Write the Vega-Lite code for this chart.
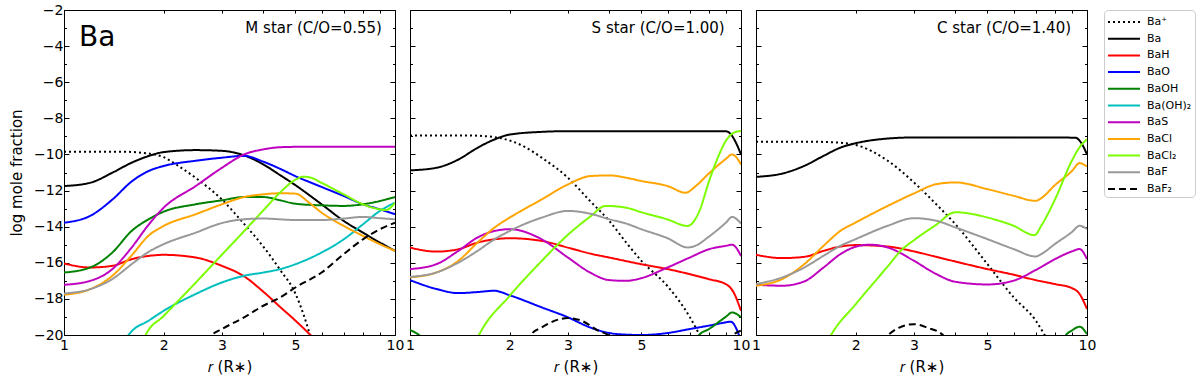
{
"$schema": "https://vega.github.io/schema/vega-lite/v6.json",
"padding": {"left": 9, "top": 3, "right": 3, "bottom": 3},
"bounds": "flush",
"config": {"font": "DejaVu Sans", "view": {"stroke": null}, "axis": {"grid": false, "minExtent": 0, "domainColor": "black", "tickColor": "black", "labelColor": "black", "titleColor": "black", "labelFontSize": 14, "titleFontSize": 15, "titleFontWeight": "normal", "labelFlush": false, "labelOverlap": false, "domainWidth": 1, "tickWidth": 1}},
"datasets": {
"curves": [
{"p":"M","s":"Ba⁺","r":1,"v":-9.85},{"p":"M","s":"Ba⁺","r":1.5,"v":-9.85},{"p":"M","s":"Ba⁺","r":1.8,"v":-9.95},{"p":"M","s":"Ba⁺","r":2,"v":-10.15},{"p":"M","s":"Ba⁺","r":2.2,"v":-10.6},{"p":"M","s":"Ba⁺","r":2.5,"v":-11.3},{"p":"M","s":"Ba⁺","r":3,"v":-12.5},{"p":"M","s":"Ba⁺","r":3.5,"v":-13.85},{"p":"M","s":"Ba⁺","r":4,"v":-15.1},{"p":"M","s":"Ba⁺","r":4.5,"v":-16.4},{"p":"M","s":"Ba⁺","r":5,"v":-17.7},{"p":"M","s":"Ba⁺","r":5.3,"v":-18.9},{"p":"M","s":"Ba⁺","r":5.6,"v":-20.3},
{"p":"M","s":"Ba","r":1,"v":-11.75},{"p":"M","s":"Ba","r":1.2,"v":-11.57},{"p":"M","s":"Ba","r":1.4,"v":-11.01},{"p":"M","s":"Ba","r":1.6,"v":-10.46},{"p":"M","s":"Ba","r":1.8,"v":-10.09},{"p":"M","s":"Ba","r":2,"v":-9.87},{"p":"M","s":"Ba","r":2.5,"v":-9.76},{"p":"M","s":"Ba","r":3,"v":-9.8},{"p":"M","s":"Ba","r":3.5,"v":-10.05},{"p":"M","s":"Ba","r":4,"v":-10.55},{"p":"M","s":"Ba","r":4.5,"v":-11.15},{"p":"M","s":"Ba","r":5,"v":-11.7},{"p":"M","s":"Ba","r":6,"v":-12.76},{"p":"M","s":"Ba","r":7,"v":-13.68},{"p":"M","s":"Ba","r":8,"v":-14.33},{"p":"M","s":"Ba","r":9,"v":-14.88},{"p":"M","s":"Ba","r":10,"v":-15.34},
{"p":"M","s":"BaH","r":1,"v":-16.04},{"p":"M","s":"BaH","r":1.2,"v":-16.26},{"p":"M","s":"BaH","r":1.4,"v":-16.17},{"p":"M","s":"BaH","r":1.6,"v":-15.8},{"p":"M","s":"BaH","r":1.8,"v":-15.62},{"p":"M","s":"BaH","r":2,"v":-15.56},{"p":"M","s":"BaH","r":2.5,"v":-15.71},{"p":"M","s":"BaH","r":3,"v":-16.17},{"p":"M","s":"BaH","r":3.5,"v":-16.75},{"p":"M","s":"BaH","r":4,"v":-17.6},{"p":"M","s":"BaH","r":4.5,"v":-18.45},{"p":"M","s":"BaH","r":5,"v":-19.2},{"p":"M","s":"BaH","r":5.7,"v":-20.2},{"p":"M","s":"BaH","r":6,"v":-20.6},
{"p":"M","s":"BaO","r":1,"v":-13.78},{"p":"M","s":"BaO","r":1.2,"v":-13.4},{"p":"M","s":"BaO","r":1.4,"v":-12.5},{"p":"M","s":"BaO","r":1.6,"v":-11.5},{"p":"M","s":"BaO","r":1.8,"v":-10.92},{"p":"M","s":"BaO","r":2,"v":-10.64},{"p":"M","s":"BaO","r":2.5,"v":-10.35},{"p":"M","s":"BaO","r":3,"v":-10.18},{"p":"M","s":"BaO","r":3.5,"v":-10.08},{"p":"M","s":"BaO","r":4,"v":-10.4},{"p":"M","s":"BaO","r":4.5,"v":-10.8},{"p":"M","s":"BaO","r":5,"v":-11.2},{"p":"M","s":"BaO","r":6,"v":-11.8},{"p":"M","s":"BaO","r":7,"v":-12.3},{"p":"M","s":"BaO","r":8,"v":-12.76},{"p":"M","s":"BaO","r":9,"v":-13.04},{"p":"M","s":"BaO","r":10,"v":-13.31},
{"p":"M","s":"BaOH","r":1,"v":-16.54},{"p":"M","s":"BaOH","r":1.2,"v":-16.26},{"p":"M","s":"BaOH","r":1.4,"v":-15.43},{"p":"M","s":"BaOH","r":1.6,"v":-14.24},{"p":"M","s":"BaOH","r":1.8,"v":-13.59},{"p":"M","s":"BaOH","r":2,"v":-13.17},{"p":"M","s":"BaOH","r":2.5,"v":-12.76},{"p":"M","s":"BaOH","r":3,"v":-12.54},{"p":"M","s":"BaOH","r":3.5,"v":-12.36},{"p":"M","s":"BaOH","r":4,"v":-12.36},{"p":"M","s":"BaOH","r":4.5,"v":-12.54},{"p":"M","s":"BaOH","r":5,"v":-12.73},{"p":"M","s":"BaOH","r":6,"v":-12.82},{"p":"M","s":"BaOH","r":7,"v":-12.85},{"p":"M","s":"BaOH","r":8,"v":-12.76},{"p":"M","s":"BaOH","r":9,"v":-12.58},{"p":"M","s":"BaOH","r":10,"v":-12.36},
{"p":"M","s":"Ba(OH)₂","r":1.5,"v":-20.35},{"p":"M","s":"Ba(OH)₂","r":1.566,"v":-20},{"p":"M","s":"Ba(OH)₂","r":1.6,"v":-19.8},{"p":"M","s":"Ba(OH)₂","r":1.8,"v":-19.21},{"p":"M","s":"Ba(OH)₂","r":2,"v":-18.66},{"p":"M","s":"Ba(OH)₂","r":2.5,"v":-17.73},{"p":"M","s":"Ba(OH)₂","r":3,"v":-17.09},{"p":"M","s":"Ba(OH)₂","r":3.5,"v":-16.72},{"p":"M","s":"Ba(OH)₂","r":4,"v":-16.54},{"p":"M","s":"Ba(OH)₂","r":4.5,"v":-16.35},{"p":"M","s":"Ba(OH)₂","r":5,"v":-16.08},{"p":"M","s":"Ba(OH)₂","r":6,"v":-15.43},{"p":"M","s":"Ba(OH)₂","r":7,"v":-14.7},{"p":"M","s":"Ba(OH)₂","r":8,"v":-13.87},{"p":"M","s":"Ba(OH)₂","r":9,"v":-13.13},{"p":"M","s":"Ba(OH)₂","r":10,"v":-12.67},
{"p":"M","s":"BaS","r":1,"v":-17.22},{"p":"M","s":"BaS","r":1.2,"v":-17.0},{"p":"M","s":"BaS","r":1.4,"v":-16.35},{"p":"M","s":"BaS","r":1.6,"v":-15.16},{"p":"M","s":"BaS","r":1.8,"v":-13.9},{"p":"M","s":"BaS","r":2,"v":-12.95},{"p":"M","s":"BaS","r":2.5,"v":-11.75},{"p":"M","s":"BaS","r":3,"v":-10.74},{"p":"M","s":"BaS","r":3.5,"v":-10.0},{"p":"M","s":"BaS","r":4,"v":-9.72},{"p":"M","s":"BaS","r":4.5,"v":-9.6},{"p":"M","s":"BaS","r":5,"v":-9.58},{"p":"M","s":"BaS","r":7,"v":-9.58},{"p":"M","s":"BaS","r":10,"v":-9.58},
{"p":"M","s":"BaCl","r":1,"v":-17.77},{"p":"M","s":"BaCl","r":1.2,"v":-17.46},{"p":"M","s":"BaCl","r":1.4,"v":-16.72},{"p":"M","s":"BaCl","r":1.6,"v":-15.6},{"p":"M","s":"BaCl","r":1.8,"v":-14.5},{"p":"M","s":"BaCl","r":2,"v":-13.96},{"p":"M","s":"BaCl","r":2.5,"v":-13.31},{"p":"M","s":"BaCl","r":3,"v":-12.76},{"p":"M","s":"BaCl","r":3.5,"v":-12.36},{"p":"M","s":"BaCl","r":4,"v":-12.21},{"p":"M","s":"BaCl","r":4.5,"v":-12.15},{"p":"M","s":"BaCl","r":5,"v":-12.17},{"p":"M","s":"BaCl","r":5.5,"v":-12.67},{"p":"M","s":"BaCl","r":6,"v":-13.22},{"p":"M","s":"BaCl","r":7,"v":-13.96},{"p":"M","s":"BaCl","r":8,"v":-14.51},{"p":"M","s":"BaCl","r":9,"v":-14.97},{"p":"M","s":"BaCl","r":10,"v":-15.34},
{"p":"M","s":"BaCl₂","r":1.7,"v":-20.8},{"p":"M","s":"BaCl₂","r":1.766,"v":-20},{"p":"M","s":"BaCl₂","r":2,"v":-18.95},{"p":"M","s":"BaCl₂","r":2.5,"v":-17.1},{"p":"M","s":"BaCl₂","r":3,"v":-15.55},{"p":"M","s":"BaCl₂","r":3.5,"v":-14.25},{"p":"M","s":"BaCl₂","r":4,"v":-13.1},{"p":"M","s":"BaCl₂","r":4.5,"v":-12.1},{"p":"M","s":"BaCl₂","r":5,"v":-11.4},{"p":"M","s":"BaCl₂","r":5.3,"v":-11.23},{"p":"M","s":"BaCl₂","r":5.6,"v":-11.3},{"p":"M","s":"BaCl₂","r":6,"v":-11.57},{"p":"M","s":"BaCl₂","r":7,"v":-12.21},{"p":"M","s":"BaCl₂","r":8,"v":-12.76},{"p":"M","s":"BaCl₂","r":9,"v":-13.04},{"p":"M","s":"BaCl₂","r":9.4,"v":-13.08},{"p":"M","s":"BaCl₂","r":10,"v":-12.67},
{"p":"M","s":"BaF","r":1,"v":-17.7},{"p":"M","s":"BaF","r":1.2,"v":-17.46},{"p":"M","s":"BaF","r":1.4,"v":-16.9},{"p":"M","s":"BaF","r":1.6,"v":-16.08},{"p":"M","s":"BaF","r":1.8,"v":-15.4},{"p":"M","s":"BaF","r":2,"v":-14.97},{"p":"M","s":"BaF","r":2.5,"v":-14.33},{"p":"M","s":"BaF","r":3,"v":-13.8},{"p":"M","s":"BaF","r":3.5,"v":-13.59},{"p":"M","s":"BaF","r":4,"v":-13.55},{"p":"M","s":"BaF","r":5,"v":-13.63},{"p":"M","s":"BaF","r":6,"v":-13.63},{"p":"M","s":"BaF","r":7,"v":-13.55},{"p":"M","s":"BaF","r":8,"v":-13.46},{"p":"M","s":"BaF","r":9,"v":-13.53},{"p":"M","s":"BaF","r":10,"v":-13.59},
{"p":"M","s":"BaF₂","r":2.7,"v":-20.4},{"p":"M","s":"BaF₂","r":2.8,"v":-20},{"p":"M","s":"BaF₂","r":3,"v":-19.67},{"p":"M","s":"BaF₂","r":3.5,"v":-19.02},{"p":"M","s":"BaF₂","r":4,"v":-18.38},{"p":"M","s":"BaF₂","r":4.5,"v":-17.92},{"p":"M","s":"BaF₂","r":5,"v":-17.37},{"p":"M","s":"BaF₂","r":6,"v":-16.54},{"p":"M","s":"BaF₂","r":7,"v":-15.52},{"p":"M","s":"BaF₂","r":8,"v":-14.7},{"p":"M","s":"BaF₂","r":9,"v":-14.14},{"p":"M","s":"BaF₂","r":10,"v":-13.78},

{"p":"S","s":"Ba⁺","r":1,"v":-8.95},{"p":"S","s":"Ba⁺","r":1.5,"v":-8.95},{"p":"S","s":"Ba⁺","r":1.8,"v":-9.04},{"p":"S","s":"Ba⁺","r":2,"v":-9.23},{"p":"S","s":"Ba⁺","r":2.2,"v":-9.54},{"p":"S","s":"Ba⁺","r":2.5,"v":-10.18},{"p":"S","s":"Ba⁺","r":3,"v":-11.29},{"p":"S","s":"Ba⁺","r":3.5,"v":-12.58},{"p":"S","s":"Ba⁺","r":4,"v":-13.68},{"p":"S","s":"Ba⁺","r":4.5,"v":-14.88},{"p":"S","s":"Ba⁺","r":5,"v":-15.89},{"p":"S","s":"Ba⁺","r":6,"v":-17.3},{"p":"S","s":"Ba⁺","r":7,"v":-19.0},{"p":"S","s":"Ba⁺","r":7.5,"v":-20.0},{"p":"S","s":"Ba⁺","r":7.8,"v":-20.6},
{"p":"S","s":"Ba","r":1,"v":-10.88},{"p":"S","s":"Ba","r":1.2,"v":-10.74},{"p":"S","s":"Ba","r":1.4,"v":-10.28},{"p":"S","s":"Ba","r":1.6,"v":-9.63},{"p":"S","s":"Ba","r":1.8,"v":-9.17},{"p":"S","s":"Ba","r":2,"v":-8.9},{"p":"S","s":"Ba","r":2.5,"v":-8.75},{"p":"S","s":"Ba","r":3,"v":-8.71},{"p":"S","s":"Ba","r":5,"v":-8.71},{"p":"S","s":"Ba","r":8,"v":-8.71},{"p":"S","s":"Ba","r":9,"v":-8.72},{"p":"S","s":"Ba","r":9.3,"v":-8.86},{"p":"S","s":"Ba","r":9.6,"v":-9.26},{"p":"S","s":"Ba","r":10,"v":-10.0},
{"p":"S","s":"BaH","r":1,"v":-15.16},{"p":"S","s":"BaH","r":1.2,"v":-15.38},{"p":"S","s":"BaH","r":1.4,"v":-15.25},{"p":"S","s":"BaH","r":1.6,"v":-14.88},{"p":"S","s":"BaH","r":1.8,"v":-14.7},{"p":"S","s":"BaH","r":2,"v":-14.64},{"p":"S","s":"BaH","r":2.5,"v":-14.79},{"p":"S","s":"BaH","r":3,"v":-15.16},{"p":"S","s":"BaH","r":3.5,"v":-15.49},{"p":"S","s":"BaH","r":4,"v":-15.71},{"p":"S","s":"BaH","r":5,"v":-16.08},{"p":"S","s":"BaH","r":6,"v":-16.35},{"p":"S","s":"BaH","r":7,"v":-16.63},{"p":"S","s":"BaH","r":8,"v":-16.91},{"p":"S","s":"BaH","r":9,"v":-17.18},{"p":"S","s":"BaH","r":9.5,"v":-17.64},{"p":"S","s":"BaH","r":10,"v":-18.66},
{"p":"S","s":"BaO","r":1,"v":-16.96},{"p":"S","s":"BaO","r":1.2,"v":-17.45},{"p":"S","s":"BaO","r":1.4,"v":-17.68},{"p":"S","s":"BaO","r":1.6,"v":-17.62},{"p":"S","s":"BaO","r":1.8,"v":-17.55},{"p":"S","s":"BaO","r":2,"v":-17.8},{"p":"S","s":"BaO","r":2.5,"v":-18.47},{"p":"S","s":"BaO","r":3,"v":-19.02},{"p":"S","s":"BaO","r":3.5,"v":-19.58},{"p":"S","s":"BaO","r":4,"v":-19.89},{"p":"S","s":"BaO","r":4.5,"v":-19.98},{"p":"S","s":"BaO","r":5,"v":-20.0},{"p":"S","s":"BaO","r":6,"v":-19.89},{"p":"S","s":"BaO","r":7,"v":-19.67},{"p":"S","s":"BaO","r":8,"v":-19.48},{"p":"S","s":"BaO","r":9,"v":-19.3},{"p":"S","s":"BaO","r":9.3,"v":-19.26},{"p":"S","s":"BaO","r":10,"v":-20.3},
{"p":"S","s":"BaOH","r":1,"v":-19.72},{"p":"S","s":"BaOH","r":1.065,"v":-20},{"p":"S","s":"BaOH","r":1.2,"v":-21},{"p":"S","s":"BaOH","r":7,"v":-21},{"p":"S","s":"BaOH","r":7.47,"v":-20},{"p":"S","s":"BaOH","r":8,"v":-19.67},{"p":"S","s":"BaOH","r":9,"v":-18.99},{"p":"S","s":"BaOH","r":9.4,"v":-18.75},{"p":"S","s":"BaOH","r":10,"v":-19.02},
{"p":"S","s":"BaS","r":1,"v":-16.35},{"p":"S","s":"BaS","r":1.2,"v":-16.08},{"p":"S","s":"BaS","r":1.4,"v":-15.34},{"p":"S","s":"BaS","r":1.6,"v":-14.6},{"p":"S","s":"BaS","r":1.8,"v":-14.24},{"p":"S","s":"BaS","r":2,"v":-14.14},{"p":"S","s":"BaS","r":2.5,"v":-14.7},{"p":"S","s":"BaS","r":3,"v":-15.71},{"p":"S","s":"BaS","r":3.5,"v":-16.54},{"p":"S","s":"BaS","r":4,"v":-16.96},{"p":"S","s":"BaS","r":4.5,"v":-17.0},{"p":"S","s":"BaS","r":5,"v":-16.85},{"p":"S","s":"BaS","r":6,"v":-16.26},{"p":"S","s":"BaS","r":7,"v":-15.71},{"p":"S","s":"BaS","r":8,"v":-15.25},{"p":"S","s":"BaS","r":9,"v":-15.06},{"p":"S","s":"BaS","r":9.4,"v":-15.0},{"p":"S","s":"BaS","r":10,"v":-15.62},
{"p":"S","s":"BaCl","r":1,"v":-16.81},{"p":"S","s":"BaCl","r":1.2,"v":-16.54},{"p":"S","s":"BaCl","r":1.4,"v":-15.89},{"p":"S","s":"BaCl","r":1.6,"v":-14.88},{"p":"S","s":"BaCl","r":1.8,"v":-14.05},{"p":"S","s":"BaCl","r":2,"v":-13.5},{"p":"S","s":"BaCl","r":2.5,"v":-12.49},{"p":"S","s":"BaCl","r":3,"v":-11.66},{"p":"S","s":"BaCl","r":3.5,"v":-11.2},{"p":"S","s":"BaCl","r":4,"v":-11.16},{"p":"S","s":"BaCl","r":4.5,"v":-11.29},{"p":"S","s":"BaCl","r":5,"v":-11.47},{"p":"S","s":"BaCl","r":6,"v":-11.75},{"p":"S","s":"BaCl","r":6.8,"v":-12.12},{"p":"S","s":"BaCl","r":7.3,"v":-11.75},{"p":"S","s":"BaCl","r":8,"v":-11.05},{"p":"S","s":"BaCl","r":9,"v":-10.25},{"p":"S","s":"BaCl","r":9.4,"v":-10.0},{"p":"S","s":"BaCl","r":10,"v":-10.55},
{"p":"S","s":"BaCl₂","r":1.55,"v":-20.7},{"p":"S","s":"BaCl₂","r":1.616,"v":-20},{"p":"S","s":"BaCl₂","r":2,"v":-17.83},{"p":"S","s":"BaCl₂","r":2.5,"v":-15.9},{"p":"S","s":"BaCl₂","r":3,"v":-14.45},{"p":"S","s":"BaCl₂","r":3.5,"v":-13.45},{"p":"S","s":"BaCl₂","r":3.9,"v":-12.85},{"p":"S","s":"BaCl₂","r":4.5,"v":-12.95},{"p":"S","s":"BaCl₂","r":5,"v":-13.2},{"p":"S","s":"BaCl₂","r":6,"v":-13.6},{"p":"S","s":"BaCl₂","r":6.9,"v":-13.96},{"p":"S","s":"BaCl₂","r":7.5,"v":-13.1},{"p":"S","s":"BaCl₂","r":8,"v":-11.5},{"p":"S","s":"BaCl₂","r":8.5,"v":-10.2},{"p":"S","s":"BaCl₂","r":9,"v":-9.25},{"p":"S","s":"BaCl₂","r":9.5,"v":-8.8},{"p":"S","s":"BaCl₂","r":10,"v":-8.7},
{"p":"S","s":"BaF","r":1,"v":-16.78},{"p":"S","s":"BaF","r":1.2,"v":-16.54},{"p":"S","s":"BaF","r":1.4,"v":-15.99},{"p":"S","s":"BaF","r":1.6,"v":-15.34},{"p":"S","s":"BaF","r":1.8,"v":-14.7},{"p":"S","s":"BaF","r":2,"v":-14.24},{"p":"S","s":"BaF","r":2.5,"v":-13.5},{"p":"S","s":"BaF","r":3,"v":-13.13},{"p":"S","s":"BaF","r":3.5,"v":-13.28},{"p":"S","s":"BaF","r":4,"v":-13.59},{"p":"S","s":"BaF","r":4.5,"v":-13.83},{"p":"S","s":"BaF","r":5,"v":-14.14},{"p":"S","s":"BaF","r":6,"v":-14.64},{"p":"S","s":"BaF","r":6.9,"v":-15.15},{"p":"S","s":"BaF","r":7.3,"v":-15.05},{"p":"S","s":"BaF","r":8,"v":-14.55},{"p":"S","s":"BaF","r":9,"v":-13.78},{"p":"S","s":"BaF","r":9.4,"v":-13.46},{"p":"S","s":"BaF","r":10,"v":-13.83},
{"p":"S","s":"BaF₂","r":2.25,"v":-20.4},{"p":"S","s":"BaF₂","r":2.315,"v":-20},{"p":"S","s":"BaF₂","r":2.5,"v":-19.58},{"p":"S","s":"BaF₂","r":2.8,"v":-19.15},{"p":"S","s":"BaF₂","r":3,"v":-19.06},{"p":"S","s":"BaF₂","r":3.3,"v":-19.21},{"p":"S","s":"BaF₂","r":3.7,"v":-19.76},{"p":"S","s":"BaF₂","r":4,"v":-20.05},{"p":"S","s":"BaF₂","r":4.2,"v":-20.5},{"p":"S","s":"BaF₂","r":9.2,"v":-20.5},{"p":"S","s":"BaF₂","r":9.5,"v":-20},{"p":"S","s":"BaF₂","r":10,"v":-19.76},

{"p":"C","s":"Ba⁺","r":1,"v":-9.3},{"p":"C","s":"Ba⁺","r":1.5,"v":-9.3},{"p":"C","s":"Ba⁺","r":1.8,"v":-9.35},{"p":"C","s":"Ba⁺","r":2,"v":-9.47},{"p":"C","s":"Ba⁺","r":2.5,"v":-10.35},{"p":"C","s":"Ba⁺","r":3,"v":-11.55},{"p":"C","s":"Ba⁺","r":3.5,"v":-12.75},{"p":"C","s":"Ba⁺","r":4,"v":-13.86},{"p":"C","s":"Ba⁺","r":5,"v":-16.07},{"p":"C","s":"Ba⁺","r":6,"v":-17.91},{"p":"C","s":"Ba⁺","r":7,"v":-19.2},{"p":"C","s":"Ba⁺","r":7.45,"v":-20},{"p":"C","s":"Ba⁺","r":7.8,"v":-20.6},
{"p":"C","s":"Ba","r":1,"v":-11.24},{"p":"C","s":"Ba","r":1.2,"v":-11.06},{"p":"C","s":"Ba","r":1.4,"v":-10.63},{"p":"C","s":"Ba","r":1.6,"v":-10.08},{"p":"C","s":"Ba","r":1.8,"v":-9.62},{"p":"C","s":"Ba","r":2,"v":-9.38},{"p":"C","s":"Ba","r":2.5,"v":-9.12},{"p":"C","s":"Ba","r":3,"v":-9.06},{"p":"C","s":"Ba","r":6,"v":-9.06},{"p":"C","s":"Ba","r":9.2,"v":-9.07},{"p":"C","s":"Ba","r":9.6,"v":-9.35},{"p":"C","s":"Ba","r":10,"v":-10.0},
{"p":"C","s":"BaH","r":1,"v":-15.56},{"p":"C","s":"BaH","r":1.2,"v":-15.74},{"p":"C","s":"BaH","r":1.4,"v":-15.67},{"p":"C","s":"BaH","r":1.6,"v":-15.34},{"p":"C","s":"BaH","r":1.8,"v":-15.1},{"p":"C","s":"BaH","r":2,"v":-15.02},{"p":"C","s":"BaH","r":2.5,"v":-15.1},{"p":"C","s":"BaH","r":3,"v":-15.37},{"p":"C","s":"BaH","r":3.5,"v":-15.67},{"p":"C","s":"BaH","r":4,"v":-15.93},{"p":"C","s":"BaH","r":5,"v":-16.35},{"p":"C","s":"BaH","r":6,"v":-16.66},{"p":"C","s":"BaH","r":7,"v":-16.96},{"p":"C","s":"BaH","r":8,"v":-17.18},{"p":"C","s":"BaH","r":9,"v":-17.4},{"p":"C","s":"BaH","r":9.5,"v":-17.73},{"p":"C","s":"BaH","r":10,"v":-18.56},
{"p":"C","s":"BaOH","r":8.4,"v":-20.4},{"p":"C","s":"BaOH","r":8.64,"v":-20},{"p":"C","s":"BaOH","r":9,"v":-19.75},{"p":"C","s":"BaOH","r":9.5,"v":-19.54},{"p":"C","s":"BaOH","r":10,"v":-19.95},
{"p":"C","s":"BaS","r":1,"v":-17.22},{"p":"C","s":"BaS","r":1.2,"v":-17.27},{"p":"C","s":"BaS","r":1.4,"v":-17.03},{"p":"C","s":"BaS","r":1.6,"v":-16.26},{"p":"C","s":"BaS","r":1.8,"v":-15.52},{"p":"C","s":"BaS","r":2,"v":-15.11},{"p":"C","s":"BaS","r":2.2,"v":-15.0},{"p":"C","s":"BaS","r":2.5,"v":-15.15},{"p":"C","s":"BaS","r":3,"v":-15.89},{"p":"C","s":"BaS","r":3.5,"v":-16.62},{"p":"C","s":"BaS","r":4,"v":-17.05},{"p":"C","s":"BaS","r":5,"v":-17.2},{"p":"C","s":"BaS","r":6,"v":-16.99},{"p":"C","s":"BaS","r":7,"v":-16.4},{"p":"C","s":"BaS","r":8,"v":-15.8},{"p":"C","s":"BaS","r":9,"v":-15.37},{"p":"C","s":"BaS","r":9.5,"v":-15.24},{"p":"C","s":"BaS","r":10,"v":-15.8},
{"p":"C","s":"BaCl","r":1,"v":-17.27},{"p":"C","s":"BaCl","r":1.2,"v":-16.9},{"p":"C","s":"BaCl","r":1.4,"v":-16.07},{"p":"C","s":"BaCl","r":1.6,"v":-15.06},{"p":"C","s":"BaCl","r":1.8,"v":-14.23},{"p":"C","s":"BaCl","r":2,"v":-13.77},{"p":"C","s":"BaCl","r":2.5,"v":-12.85},{"p":"C","s":"BaCl","r":3,"v":-12.16},{"p":"C","s":"BaCl","r":3.5,"v":-11.65},{"p":"C","s":"BaCl","r":4,"v":-11.55},{"p":"C","s":"BaCl","r":5,"v":-11.92},{"p":"C","s":"BaCl","r":6,"v":-12.29},{"p":"C","s":"BaCl","r":7,"v":-12.57},{"p":"C","s":"BaCl","r":7.3,"v":-12.4},{"p":"C","s":"BaCl","r":8,"v":-11.7},{"p":"C","s":"BaCl","r":9,"v":-10.92},{"p":"C","s":"BaCl","r":9.5,"v":-10.48},{"p":"C","s":"BaCl","r":10,"v":-10.67},
{"p":"C","s":"BaCl₂","r":1.6,"v":-20.8},{"p":"C","s":"BaCl₂","r":1.686,"v":-20},{"p":"C","s":"BaCl₂","r":2,"v":-18.3},{"p":"C","s":"BaCl₂","r":2.5,"v":-16.2},{"p":"C","s":"BaCl₂","r":2.75,"v":-15.3},{"p":"C","s":"BaCl₂","r":3,"v":-14.75},{"p":"C","s":"BaCl₂","r":3.5,"v":-13.9},{"p":"C","s":"BaCl₂","r":4,"v":-13.2},{"p":"C","s":"BaCl₂","r":4.5,"v":-13.3},{"p":"C","s":"BaCl₂","r":5,"v":-13.49},{"p":"C","s":"BaCl₂","r":6,"v":-13.95},{"p":"C","s":"BaCl₂","r":6.94,"v":-14.47},{"p":"C","s":"BaCl₂","r":7.3,"v":-13.9},{"p":"C","s":"BaCl₂","r":8,"v":-12.5},{"p":"C","s":"BaCl₂","r":9,"v":-10.35},{"p":"C","s":"BaCl₂","r":9.5,"v":-9.6},{"p":"C","s":"BaCl₂","r":10,"v":-9.16},
{"p":"C","s":"BaF","r":1,"v":-17.18},{"p":"C","s":"BaF","r":1.2,"v":-16.81},{"p":"C","s":"BaF","r":1.4,"v":-16.26},{"p":"C","s":"BaF","r":1.6,"v":-15.61},{"p":"C","s":"BaF","r":1.8,"v":-15.06},{"p":"C","s":"BaF","r":2,"v":-14.69},{"p":"C","s":"BaF","r":2.5,"v":-13.95},{"p":"C","s":"BaF","r":3,"v":-13.53},{"p":"C","s":"BaF","r":3.5,"v":-13.67},{"p":"C","s":"BaF","r":4,"v":-14.04},{"p":"C","s":"BaF","r":5,"v":-14.69},{"p":"C","s":"BaF","r":6,"v":-15.24},{"p":"C","s":"BaF","r":7,"v":-15.65},{"p":"C","s":"BaF","r":7.3,"v":-15.5},{"p":"C","s":"BaF","r":8,"v":-14.96},{"p":"C","s":"BaF","r":9,"v":-14.3},{"p":"C","s":"BaF","r":9.5,"v":-13.95},{"p":"C","s":"BaF","r":10,"v":-14.13},
{"p":"C","s":"BaF₂","r":2.4,"v":-20.4},{"p":"C","s":"BaF₂","r":2.51,"v":-20},{"p":"C","s":"BaF₂","r":2.7,"v":-19.6},{"p":"C","s":"BaF₂","r":3,"v":-19.4},{"p":"C","s":"BaF₂","r":3.3,"v":-19.6},{"p":"C","s":"BaF₂","r":3.67,"v":-20},{"p":"C","s":"BaF₂","r":3.8,"v":-20.4}
],
"titles": [
{"p":"M","label":"M star (C/O=0.55)","r":9.13,"v":-3.29},
{"p":"S","label":"S star (C/O=1.00)","r":8.93,"v":-3.29},
{"p":"C","label":"C star (C/O=1.40)","r":8.95,"v":-3.29}
],
"element": [{"label":"Ba","r":1.11,"v":-3.99}]
},
"spacing": 15,
"resolve": {"scale": {"color": "shared", "strokeDash": "shared"}, "legend": {"color": "shared", "strokeDash": "shared"}},
"hconcat": [
{"width": 331, "height": 325, "resolve": {"axis": {"x": "independent", "y": "independent"}},
 "layer": [
 {"data": {"name": "curves"}, "transform": [{"filter": "datum.p == 'M'"}],
  "mark": {"type": "line", "clip": true, "interpolate": "monotone", "strokeWidth": 2},
  "encoding": {
   "x": {"field": "r", "type": "quantitative", "scale": {"type": "log", "domain": [1, 10], "nice": false}, "axis": {"orient": "bottom", "values": [1,2,3,4,5,6,7,8,9,10], "format": "~g", "labelExpr": "indexof([1,2,3,5,10], datum.value) >= 0 ? datum.label : ''", "tickSize": -3, "labelPadding": 6, "title": "𝑟 (R∗)", "titlePadding": 7}},
   "y": {"field": "v", "type": "quantitative", "scale": {"domain": [-20, -2], "nice": false, "zero": false}, "axis": {"orient": "left", "values": [-20,-19,-18,-17,-16,-15,-14,-13,-12,-11,-10,-9,-8,-7,-6,-5,-4,-3,-2], "labelExpr": "datum.value % 2 == 0 ? replace(datum.label, '-', '−') : ''", "tickSize": {"condition": {"test": "datum.value % 2 == 0", "value": -5}, "value": -2.5}, "labelPadding": 6, "title": "log mole fraction", "titlePadding": 9}},
   "color": {"field": "s", "type": "nominal", "scale": {"domain": ["Ba⁺","Ba","BaH","BaO","BaOH","Ba(OH)₂","BaS","BaCl","BaCl₂","BaF","BaF₂"], "range": ["#000000","#000000","#ff0000","#0000ff","#008000","#00bfbf","#bf00bf","#ffa500","#7cfc00","#999999","#000000"]}, "legend": {"title": null, "orient": "right", "offset": 8, "padding": 3, "strokeColor": "#cccccc", "cornerRadius": 4, "fillColor": "white", "labelFontSize": 11, "labelColor": "black", "symbolType": "M-1,0H3", "symbolSize": 256, "symbolStrokeWidth": 2, "labelOffset": 22, "rowPadding": 2.7}},
   "strokeDash": {"field": "s", "type": "nominal", "scale": {"domain": ["Ba⁺","Ba","BaH","BaO","BaOH","Ba(OH)₂","BaS","BaCl","BaCl₂","BaF","BaF₂"], "range": [[2,3],[1,0],[1,0],[1,0],[1,0],[1,0],[1,0],[1,0],[1,0],[1,0],[7,4]]}, "legend": {"title": null, "orient": "right", "offset": 8, "padding": 3, "strokeColor": "#cccccc", "cornerRadius": 4, "fillColor": "white", "labelFontSize": 11, "labelColor": "black", "symbolType": "M-1,0H3", "symbolSize": 256, "symbolStrokeWidth": 2, "labelOffset": 22, "rowPadding": 2.7}}
  }},
 {"data": {"name": "titles"}, "transform": [{"filter": "datum.p == 'M'"}],
  "mark": {"type": "text", "align": "right", "baseline": "alphabetic", "fontSize": 15, "color": "black"},
  "encoding": {
   "x": {"field": "r", "type": "quantitative", "scale": {"type": "log", "domain": [1, 10], "nice": false}, "axis": {"orient": "top", "values": [1,2,3,4,5,6,7,8,9,10], "labels": false, "title": null, "tickSize": -3}},
   "y": {"field": "v", "type": "quantitative", "scale": {"domain": [-20, -2], "nice": false, "zero": false}, "axis": {"orient": "right", "values": [-20,-19,-18,-17,-16,-15,-14,-13,-12,-11,-10,-9,-8,-7,-6,-5,-4,-3,-2], "labels": false, "title": null, "tickSize": {"condition": {"test": "datum.value % 2 == 0", "value": -5}, "value": -2.5}}},
   "text": {"field": "label"}
  }},
 {"data": {"name": "element"},
  "mark": {"type": "text", "align": "left", "baseline": "alphabetic", "fontSize": 28, "color": "black"},
  "encoding": {
   "x": {"field": "r", "type": "quantitative", "scale": {"type": "log", "domain": [1, 10], "nice": false}, "axis": null},
   "y": {"field": "v", "type": "quantitative", "scale": {"domain": [-20, -2], "nice": false, "zero": false}, "axis": null},
   "text": {"field": "label"}
  }}
 ]},
{"width": 331, "height": 325, "resolve": {"axis": {"x": "independent", "y": "independent"}},
 "layer": [
 {"data": {"name": "curves"}, "transform": [{"filter": "datum.p == 'S'"}],
  "mark": {"type": "line", "clip": true, "interpolate": "monotone", "strokeWidth": 2},
  "encoding": {
   "x": {"field": "r", "type": "quantitative", "scale": {"type": "log", "domain": [1, 10], "nice": false}, "axis": {"orient": "bottom", "values": [1,2,3,4,5,6,7,8,9,10], "format": "~g", "labelExpr": "indexof([1,2,3,5,10], datum.value) >= 0 ? datum.label : ''", "tickSize": -3, "labelPadding": 6, "title": "𝑟 (R∗)", "titlePadding": 7}},
   "y": {"field": "v", "type": "quantitative", "scale": {"domain": [-20, -2], "nice": false, "zero": false}, "axis": {"orient": "left", "values": [-20,-19,-18,-17,-16,-15,-14,-13,-12,-11,-10,-9,-8,-7,-6,-5,-4,-3,-2], "labels": false, "title": null, "tickSize": {"condition": {"test": "datum.value % 2 == 0", "value": -5}, "value": -2.5}}},
   "color": {"field": "s", "type": "nominal"},
   "strokeDash": {"field": "s", "type": "nominal"}
  }},
 {"data": {"name": "titles"}, "transform": [{"filter": "datum.p == 'S'"}],
  "mark": {"type": "text", "align": "right", "baseline": "alphabetic", "fontSize": 15, "color": "black"},
  "encoding": {
   "x": {"field": "r", "type": "quantitative", "scale": {"type": "log", "domain": [1, 10], "nice": false}, "axis": {"orient": "top", "values": [1,2,3,4,5,6,7,8,9,10], "labels": false, "title": null, "tickSize": -3}},
   "y": {"field": "v", "type": "quantitative", "scale": {"domain": [-20, -2], "nice": false, "zero": false}, "axis": {"orient": "right", "values": [-20,-19,-18,-17,-16,-15,-14,-13,-12,-11,-10,-9,-8,-7,-6,-5,-4,-3,-2], "labels": false, "title": null, "tickSize": {"condition": {"test": "datum.value % 2 == 0", "value": -5}, "value": -2.5}}},
   "text": {"field": "label"}
  }}
 ]},
{"width": 331, "height": 325, "resolve": {"axis": {"x": "independent", "y": "independent"}},
 "layer": [
 {"data": {"name": "curves"}, "transform": [{"filter": "datum.p == 'C'"}],
  "mark": {"type": "line", "clip": true, "interpolate": "monotone", "strokeWidth": 2},
  "encoding": {
   "x": {"field": "r", "type": "quantitative", "scale": {"type": "log", "domain": [1, 10], "nice": false}, "axis": {"orient": "bottom", "values": [1,2,3,4,5,6,7,8,9,10], "format": "~g", "labelExpr": "indexof([1,2,3,5,10], datum.value) >= 0 ? datum.label : ''", "tickSize": -3, "labelPadding": 6, "title": "𝑟 (R∗)", "titlePadding": 7}},
   "y": {"field": "v", "type": "quantitative", "scale": {"domain": [-20, -2], "nice": false, "zero": false}, "axis": {"orient": "left", "values": [-20,-19,-18,-17,-16,-15,-14,-13,-12,-11,-10,-9,-8,-7,-6,-5,-4,-3,-2], "labels": false, "title": null, "tickSize": {"condition": {"test": "datum.value % 2 == 0", "value": -5}, "value": -2.5}}},
   "color": {"field": "s", "type": "nominal"},
   "strokeDash": {"field": "s", "type": "nominal"}
  }},
 {"data": {"name": "titles"}, "transform": [{"filter": "datum.p == 'C'"}],
  "mark": {"type": "text", "align": "right", "baseline": "alphabetic", "fontSize": 15, "color": "black"},
  "encoding": {
   "x": {"field": "r", "type": "quantitative", "scale": {"type": "log", "domain": [1, 10], "nice": false}, "axis": {"orient": "top", "values": [1,2,3,4,5,6,7,8,9,10], "labels": false, "title": null, "tickSize": -3}},
   "y": {"field": "v", "type": "quantitative", "scale": {"domain": [-20, -2], "nice": false, "zero": false}, "axis": {"orient": "right", "values": [-20,-19,-18,-17,-16,-15,-14,-13,-12,-11,-10,-9,-8,-7,-6,-5,-4,-3,-2], "labels": false, "title": null, "tickSize": {"condition": {"test": "datum.value % 2 == 0", "value": -5}, "value": -2.5}}},
   "text": {"field": "label"}
  }}
 ]}
]
}
